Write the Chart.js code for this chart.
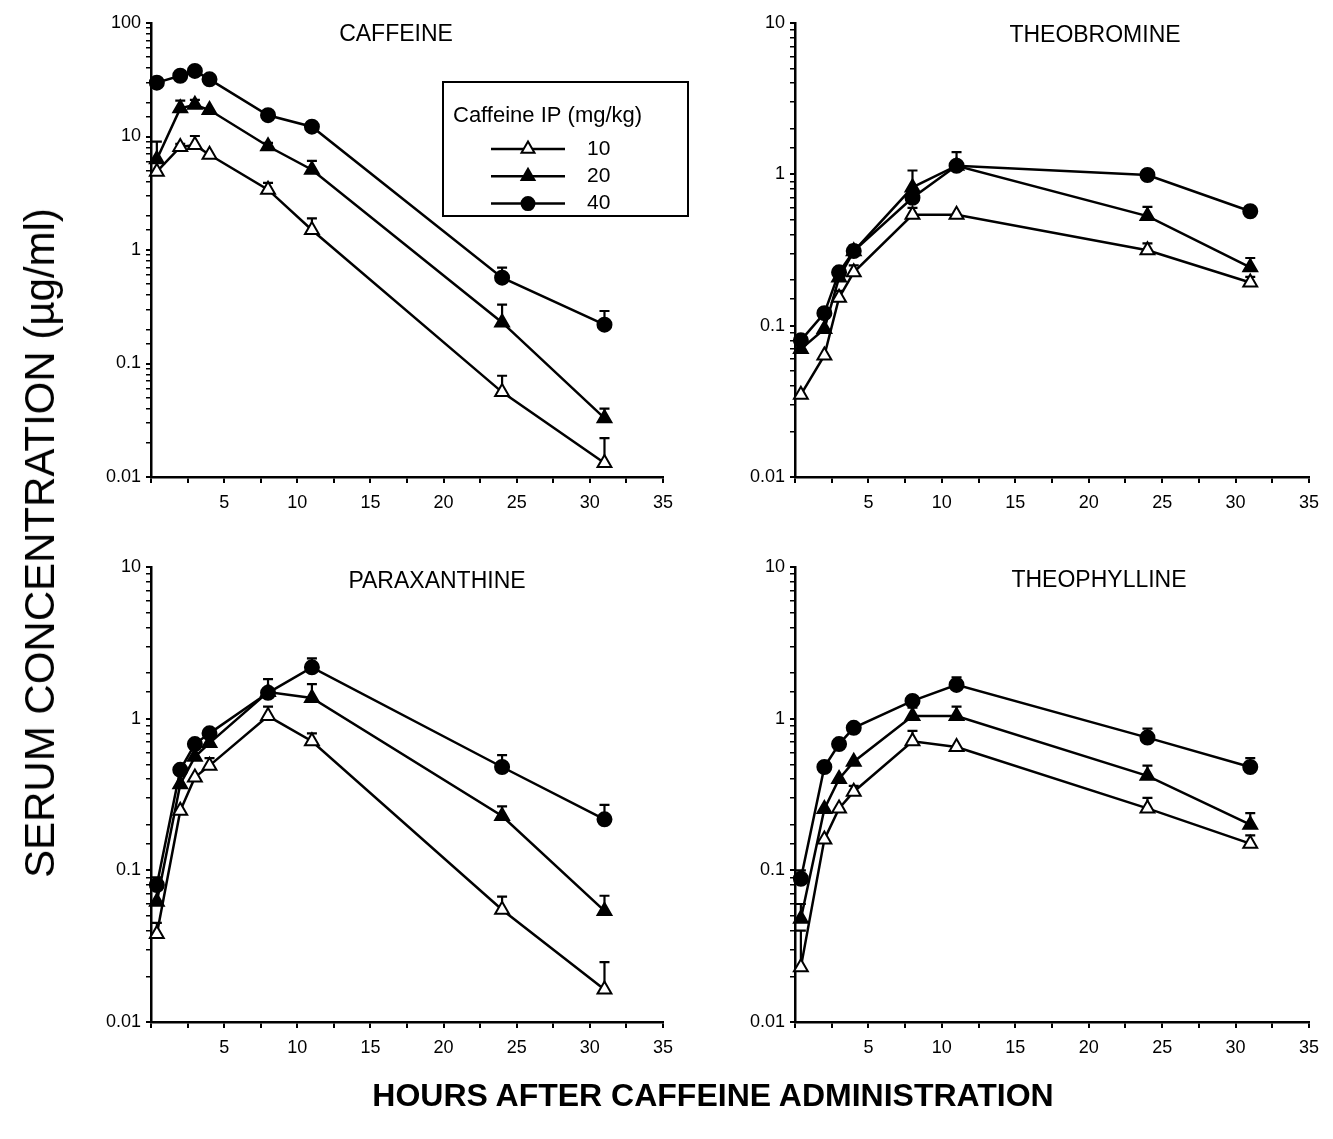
<!DOCTYPE html>
<html><head><meta charset="utf-8">
<script src="https://cdn.jsdelivr.net/npm/chart.js@4.4.1/dist/chart.umd.min.js"></script>
<style>
html,body{margin:0;padding:0;background:#fff;overflow:hidden;}
#wrap{position:relative;width:1333px;height:1139px;font-family:"Liberation Sans",Arial,Helvetica,sans-serif;color:#000;}
canvas.pc{position:absolute;}
.ttl{position:absolute;font-size:23px;transform:translate(-50%,-50%);white-space:nowrap;}
#ylab{position:absolute;left:40px;top:543px;font-size:42px;transform:translate(-50%,-50%) rotate(-90deg);white-space:nowrap;}
#xlab{position:absolute;left:713px;top:1095px;font-size:32px;font-weight:bold;transform:translate(-50%,-50%);white-space:nowrap;}
</style></head>
<body><div id="wrap">
<canvas id="c1" class="pc" width="700" height="530" style="left:0;top:0"></canvas>
<canvas id="c2" class="pc" width="689" height="530" style="left:644px;top:0"></canvas>
<canvas id="c3" class="pc" width="700" height="540" style="left:0;top:540px"></canvas>
<canvas id="c4" class="pc" width="689" height="540" style="left:644px;top:540px"></canvas>
<div class="ttl" style="left:396px;top:33px">CAFFEINE</div>
<div class="ttl" style="left:1095px;top:34px">THEOBROMINE</div>
<div class="ttl" style="left:437px;top:580px">PARAXANTHINE</div>
<div class="ttl" style="left:1099px;top:579px">THEOPHYLLINE</div>
<div id="ylab">SERUM CONCENTRATION (µg/ml)</div>
<div id="xlab">HOURS AFTER CAFFEINE ADMINISTRATION</div>
</div>
<script>
// ---- data ----
const hours = [0.4, 2, 3, 4, 8, 11, 24, 31];
const doses = ['10', '20', '40'];
const legendTitle = 'Caffeine IP (mg/kg)';
const xTicks = [5, 10, 15, 20, 25, 30, 35];

const caffeine10   = [4.9, 8.1, 8.4, 6.9, 3.4, 1.5, 0.056, 0.0133];
const caffeine10Hi = [null, 8.6, 10.1, null, 3.9, 1.9, 0.078, 0.022];
const caffeine20   = [6.3, 17.7, 19.0, 17.1, 8.2, 5.1, 0.23, 0.033];
const caffeine20Hi = [9.0, 20.7, 21.0, null, 8.8, 6.1, 0.33, 0.040];
const caffeine40   = [29.8, 34.3, 37.8, 31.9, 15.4, 12.2, 0.57, 0.22];
const caffeine40Hi = [null, null, null, null, null, null, 0.70, 0.29];

const theobromine10   = [0.035, 0.0635, 0.153, 0.225, 0.54, 0.54, 0.315, 0.193];
const theobromine10Hi = [null, null, 0.17, 0.25, 0.60, null, 0.35, 0.21];
const theobromine20   = [0.070, 0.095, 0.208, 0.31, 0.82, 1.14, 0.53, 0.243];
const theobromine20Hi = [null, null, null, 0.34, 1.06, 1.40, 0.61, 0.28];
const theobromine40   = [0.080, 0.121, 0.225, 0.311, 0.70, 1.14, 0.99, 0.57];
const theobromine40Hi = [null, 0.13, null, null, null, 1.20, null, 0.60];

const paraxanthine10   = [0.038, 0.247, 0.41, 0.49, 1.04, 0.71, 0.055, 0.0164];
const paraxanthine10Hi = [0.045, null, null, 0.55, 1.20, 0.80, 0.067, 0.0248];
const paraxanthine20   = [0.062, 0.37, 0.56, 0.69, 1.50, 1.37, 0.228, 0.054];
const paraxanthine20Hi = [0.090, null, null, null, 1.82, 1.69, 0.264, 0.068];
const paraxanthine40   = [0.080, 0.46, 0.68, 0.80, 1.48, 2.18, 0.48, 0.217];
const paraxanthine40Hi = [null, null, null, null, null, 2.50, 0.575, 0.27];

const theophylline10   = [0.023, 0.16, 0.256, 0.33, 0.71, 0.65, 0.256, 0.15];
const theophylline10Hi = [0.040, null, null, 0.36, 0.83, null, 0.30, 0.17];
const theophylline20   = [0.048, 0.254, 0.40, 0.52, 1.04, 1.04, 0.42, 0.20];
const theophylline20Hi = [0.060, null, null, null, 1.18, 1.20, 0.49, 0.238];
const theophylline40   = [0.088, 0.48, 0.68, 0.87, 1.31, 1.67, 0.75, 0.48];
const theophylline40Hi = [0.100, null, null, null, null, 1.87, 0.86, 0.55];

// ---- plugins ----
const errorBars = {
  id: 'errorBars',
  beforeDatasetsDraw(chart) {
    const {ctx} = chart; const xs = chart.scales.x, ys = chart.scales.y;
    ctx.save(); ctx.strokeStyle = '#000'; ctx.lineWidth = 2.2;
    chart.data.datasets.forEach(ds => {
      if (!ds.hi) return;
      ds.data.forEach((pt, j) => {
        const hi = ds.hi[j]; if (hi == null) return;
        const px = xs.getPixelForValue(pt.x), py = ys.getPixelForValue(pt.y), ph = ys.getPixelForValue(hi);
        ctx.beginPath(); ctx.moveTo(px, py); ctx.lineTo(px, ph);
        ctx.moveTo(px - 5, ph); ctx.lineTo(px + 5, ph); ctx.stroke();
      });
    });
    ctx.restore();
  }
};

function drawMarker(ctx, style, r, fill, x, y) {
  ctx.beginPath();
  if (style === 'circle') { ctx.arc(x, y, r, 0, Math.PI * 2); }
  else {
    for (let k = 0; k < 3; k++) {
      const a = k * 2 * Math.PI / 3;
      const px = x + Math.sin(a) * r, py = y - Math.cos(a) * r;
      k === 0 ? ctx.moveTo(px, py) : ctx.lineTo(px, py);
    }
    ctx.closePath();
  }
  ctx.fillStyle = fill; ctx.fill();
  ctx.lineWidth = 2; ctx.strokeStyle = '#000'; ctx.stroke();
}

const doseLegend = {
  id: 'doseLegend',
  afterDraw(chart, args, opts) {
    if (!opts || !opts.show) return;
    const {ctx} = chart;
    ctx.save();
    ctx.fillStyle = '#fff';
    ctx.fillRect(opts.x, opts.y, opts.w, opts.h);
    ctx.lineWidth = 2; ctx.strokeStyle = '#000';
    ctx.strokeRect(opts.x, opts.y, opts.w, opts.h);
    ctx.fillStyle = '#000';
    ctx.font = '22px "Liberation Sans", Arial, sans-serif';
    ctx.textBaseline = 'middle'; ctx.textAlign = 'left';
    ctx.fillText(opts.title, opts.x + 10, opts.y + 34);
    chart.data.datasets.forEach((ds, i) => {
      const yy = opts.y + 67 + i * 27.3;
      ctx.beginPath(); ctx.lineWidth = 2.5; ctx.strokeStyle = '#000';
      ctx.moveTo(opts.x + 48, yy); ctx.lineTo(opts.x + 122, yy); ctx.stroke();
      drawMarker(ctx, ds.pointStyle, ds.pointRadius - 0.5, ds.pointBackgroundColor, opts.x + 85, yy);
      ctx.fillStyle = '#000';
      ctx.font = '21px "Liberation Sans", Arial, sans-serif';
      ctx.fillText(ds.label, opts.x + 144, yy);
    });
    ctx.restore();
  }
};

function isDecade(v) { const l = Math.log10(v); return Math.abs(l - Math.round(l)) < 1e-6; }
function decadeLabel(v) { return v >= 1 ? String(Math.round(v)) : String(parseFloat(v.toPrecision(1))); }

function makeDatasets(a10, h10, a20, h20, a40, h40) {
  const series = [[a10, h10, 'triangle', '#fff', 8], [a20, h20, 'triangle', '#000', 8], [a40, h40, 'circle', '#000', 7]];
  return series.map((s, i) => ({
    label: doses[i],
    data: hours.map((h, j) => ({x: h, y: s[0][j]})),
    hi: s[1],
    borderColor: '#000', borderWidth: 2.5, tension: 0,
    pointStyle: s[2], pointBackgroundColor: s[3], pointBorderColor: '#000',
    pointBorderWidth: 2, pointRadius: s[4], clip: false
  }));
}

function makeChart(id, yMax, padTop, padRight, xH, datasets, legendOpts) {
  return new Chart(document.getElementById(id), {
    type: 'line',
    data: {datasets},
    plugins: [errorBars, doseLegend],
    options: {
      responsive: false, animation: false,
      layout: {padding: {top: padTop, right: padRight, left: 0, bottom: 0}},
      plugins: {legend: {display: false}, tooltip: {enabled: false}, doseLegend: legendOpts || {show: false}},
      scales: {
        x: {
          type: 'linear', min: 0, max: 35,
          border: {display: true, color: '#000', width: 2.5},
          grid: {drawOnChartArea: false, drawTicks: true, tickLength: 6, color: '#000', lineWidth: 2},
          ticks: {stepSize: 2.5, autoSkip: false, maxRotation: 0, padding: 9, color: '#000',
                  font: {size: 18, family: '"Liberation Sans", Arial, sans-serif'},
                  callback: v => (xTicks.includes(v) ? String(v) : '')},
          afterFit: s => { s.height = xH; }
        },
        y: {
          type: 'logarithmic', min: 0.01, max: yMax,
          border: {display: true, color: '#000', width: 2.5},
          grid: {drawOnChartArea: false, drawTicks: true, tickLength: 5, color: '#000',
                 lineWidth: c => (c.tick && isDecade(c.tick.value) ? 2 : 1.5)},
          ticks: {autoSkip: false, padding: 5, color: '#000',
                  font: {size: 18, family: '"Liberation Sans", Arial, sans-serif'},
                  callback: v => (isDecade(v) ? decadeLabel(v) : '')},
          afterFit: s => { s.width = 151; }
        }
      }
    }
  });
}

makeChart('c1', 100, 23, 37, 53,
  makeDatasets(caffeine10, caffeine10Hi, caffeine20, caffeine20Hi, caffeine40, caffeine40Hi),
  {show: true, title: legendTitle, x: 443, y: 82, w: 245, h: 134});
makeChart('c2', 10, 23, 24, 53,
  makeDatasets(theobromine10, theobromine10Hi, theobromine20, theobromine20Hi, theobromine40, theobromine40Hi));
makeChart('c3', 10, 27, 37, 58,
  makeDatasets(paraxanthine10, paraxanthine10Hi, paraxanthine20, paraxanthine20Hi, paraxanthine40, paraxanthine40Hi));
makeChart('c4', 10, 27, 24, 58,
  makeDatasets(theophylline10, theophylline10Hi, theophylline20, theophylline20Hi, theophylline40, theophylline40Hi));
</script>
</body></html>
